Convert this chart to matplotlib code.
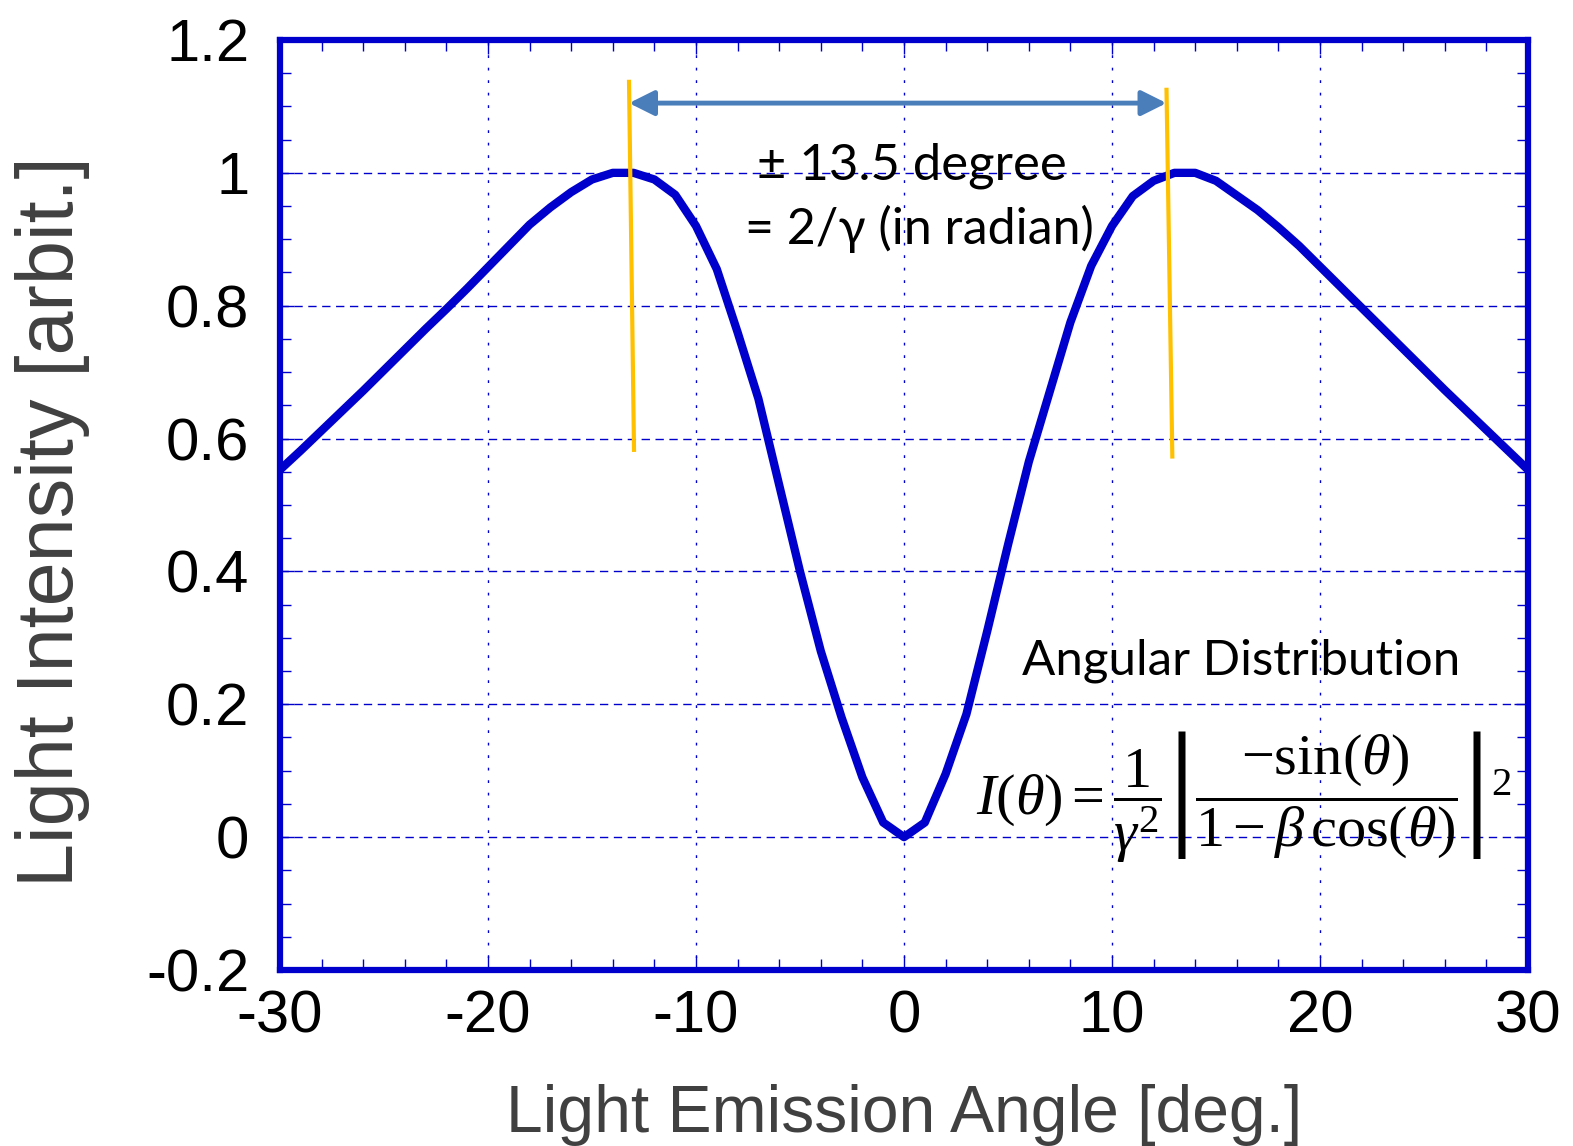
import matplotlib
matplotlib.use("Agg")
import matplotlib.pyplot as plt
from matplotlib.ticker import MultipleLocator

# angulo [deg] y intensidad
angle = list(range(-30, 31))
intensity = [0.553, 0.582, 0.612, 0.642, 0.672, 0.703, 0.734, 0.765, 0.795, 0.826,
             0.858, 0.890, 0.922, 0.948, 0.971, 0.990, 1.000, 1.000, 0.990, 0.967,
             0.920, 0.855, 0.760, 0.660, 0.530, 0.400, 0.280, 0.180, 0.090, 0.022,
             0.000,
             0.022, 0.095, 0.185, 0.310, 0.440, 0.565, 0.670, 0.775, 0.860, 0.920,
             0.965, 0.988, 1.000, 1.000, 0.988, 0.966, 0.944, 0.918, 0.890, 0.859,
             0.828, 0.797, 0.766, 0.735, 0.704, 0.673, 0.643, 0.613, 0.583, 0.553]

# lineas naranjas (x arriba, x abajo, y arriba, y abajo)
left_mark = [(-13.22, -12.98), (1.137, 0.583)]
right_mark = [(12.62, 12.90), (1.125, 0.573)]
arrow_y = 1.105

blue = '#0000CC'

plt.rcParams['axes.unicode_minus'] = False
plt.rcParams['mathtext.fontset'] = 'custom'
plt.rcParams['mathtext.rm'] = 'Liberation Serif'
plt.rcParams['mathtext.it'] = 'Liberation Serif:italic'
plt.rcParams['mathtext.fallback'] = 'cm'

fig = plt.figure(figsize=(15.73, 11.46), dpi=100)
ax = fig.add_axes([0.178, 0.1536, 0.7934, 0.8115])

ax.plot(angle, intensity, color=blue, lw=6, zorder=3)

ax.plot(left_mark[0], left_mark[1], color='#FFC000', lw=3, zorder=4)
ax.plot(right_mark[0], right_mark[1], color='#FFC000', lw=3, zorder=4)
ax.annotate('', xy=(left_mark[0][0], arrow_y), xytext=(right_mark[0][0], arrow_y),
            arrowprops=dict(arrowstyle='<|-|>', color='#4A7EBB', lw=3.5,
                            mutation_scale=38, shrinkA=0, shrinkB=0), zorder=5)

ax.text(0.4, 1.01, '± 13.5 degree', fontsize=36.5, family='Lato',
        ha='center', va='center')
ax.text(0.75, 0.915, '= 2/γ (in radian)', fontsize=36, family='Lato',
        ha='center', va='center')
ax.text(16.2, 0.265, 'Angular Distribution', fontsize=35.5, family='Lato',
        ha='center', va='center')

ax.text(16.35, 0.06,
        r'$I(\theta)=\dfrac{1}{\gamma^2}\left|\dfrac{-\mathrm{sin}(\theta)}{1-\beta\,\mathrm{cos}(\theta)}\right|^2$',
        fontsize=42, ha='center', va='center')

ax.set_xlim(-30, 30)
ax.set_ylim(-0.2, 1.2)
ax.xaxis.set_major_locator(MultipleLocator(10))
ax.xaxis.set_minor_locator(MultipleLocator(2))
ax.yaxis.set_minor_locator(MultipleLocator(0.05))
ax.set_yticks([-0.2, 0, 0.2, 0.4, 0.6, 0.8, 1.0, 1.2])
ax.set_yticklabels(['-0.2', '0', '0.2', '0.4', '0.6', '0.8', '1', '1.2'])

ax.xaxis.grid(True, which='major', color=blue, lw=1, linestyle=(0, (2, 7)))
ax.yaxis.grid(True, which='major', color=blue, lw=1, linestyle=(0, (6, 4)))

ax.tick_params(which='both', direction='in', top=True, right=True, color=blue,
               labelsize=43)
ax.tick_params(axis='x', which='major', pad=14)
ax.tick_params(axis='y', which='major', pad=22)
ax.tick_params(which='major', length=10, width=1)
ax.tick_params(which='minor', length=8, width=1)
for lab in ax.get_xticklabels() + ax.get_yticklabels():
    lab.set_family('Liberation Sans')

for s in ax.spines.values():
    s.set_color(blue)
    s.set_linewidth(4.5)

ax.set_xlabel('Light Emission Angle [deg.]', fontsize=47.5, family='Liberation Sans',
              color='#404040', va='top')
ax.xaxis.set_label_coords(0.5, -0.123)
ax.set_ylabel('Light Intensity [arbit.]', fontsize=57, family='Liberation Sans',
              color='#404040', va='bottom')
ax.yaxis.set_label_coords(-0.152, 0.482)

fig.savefig('out.png', dpi=100)
